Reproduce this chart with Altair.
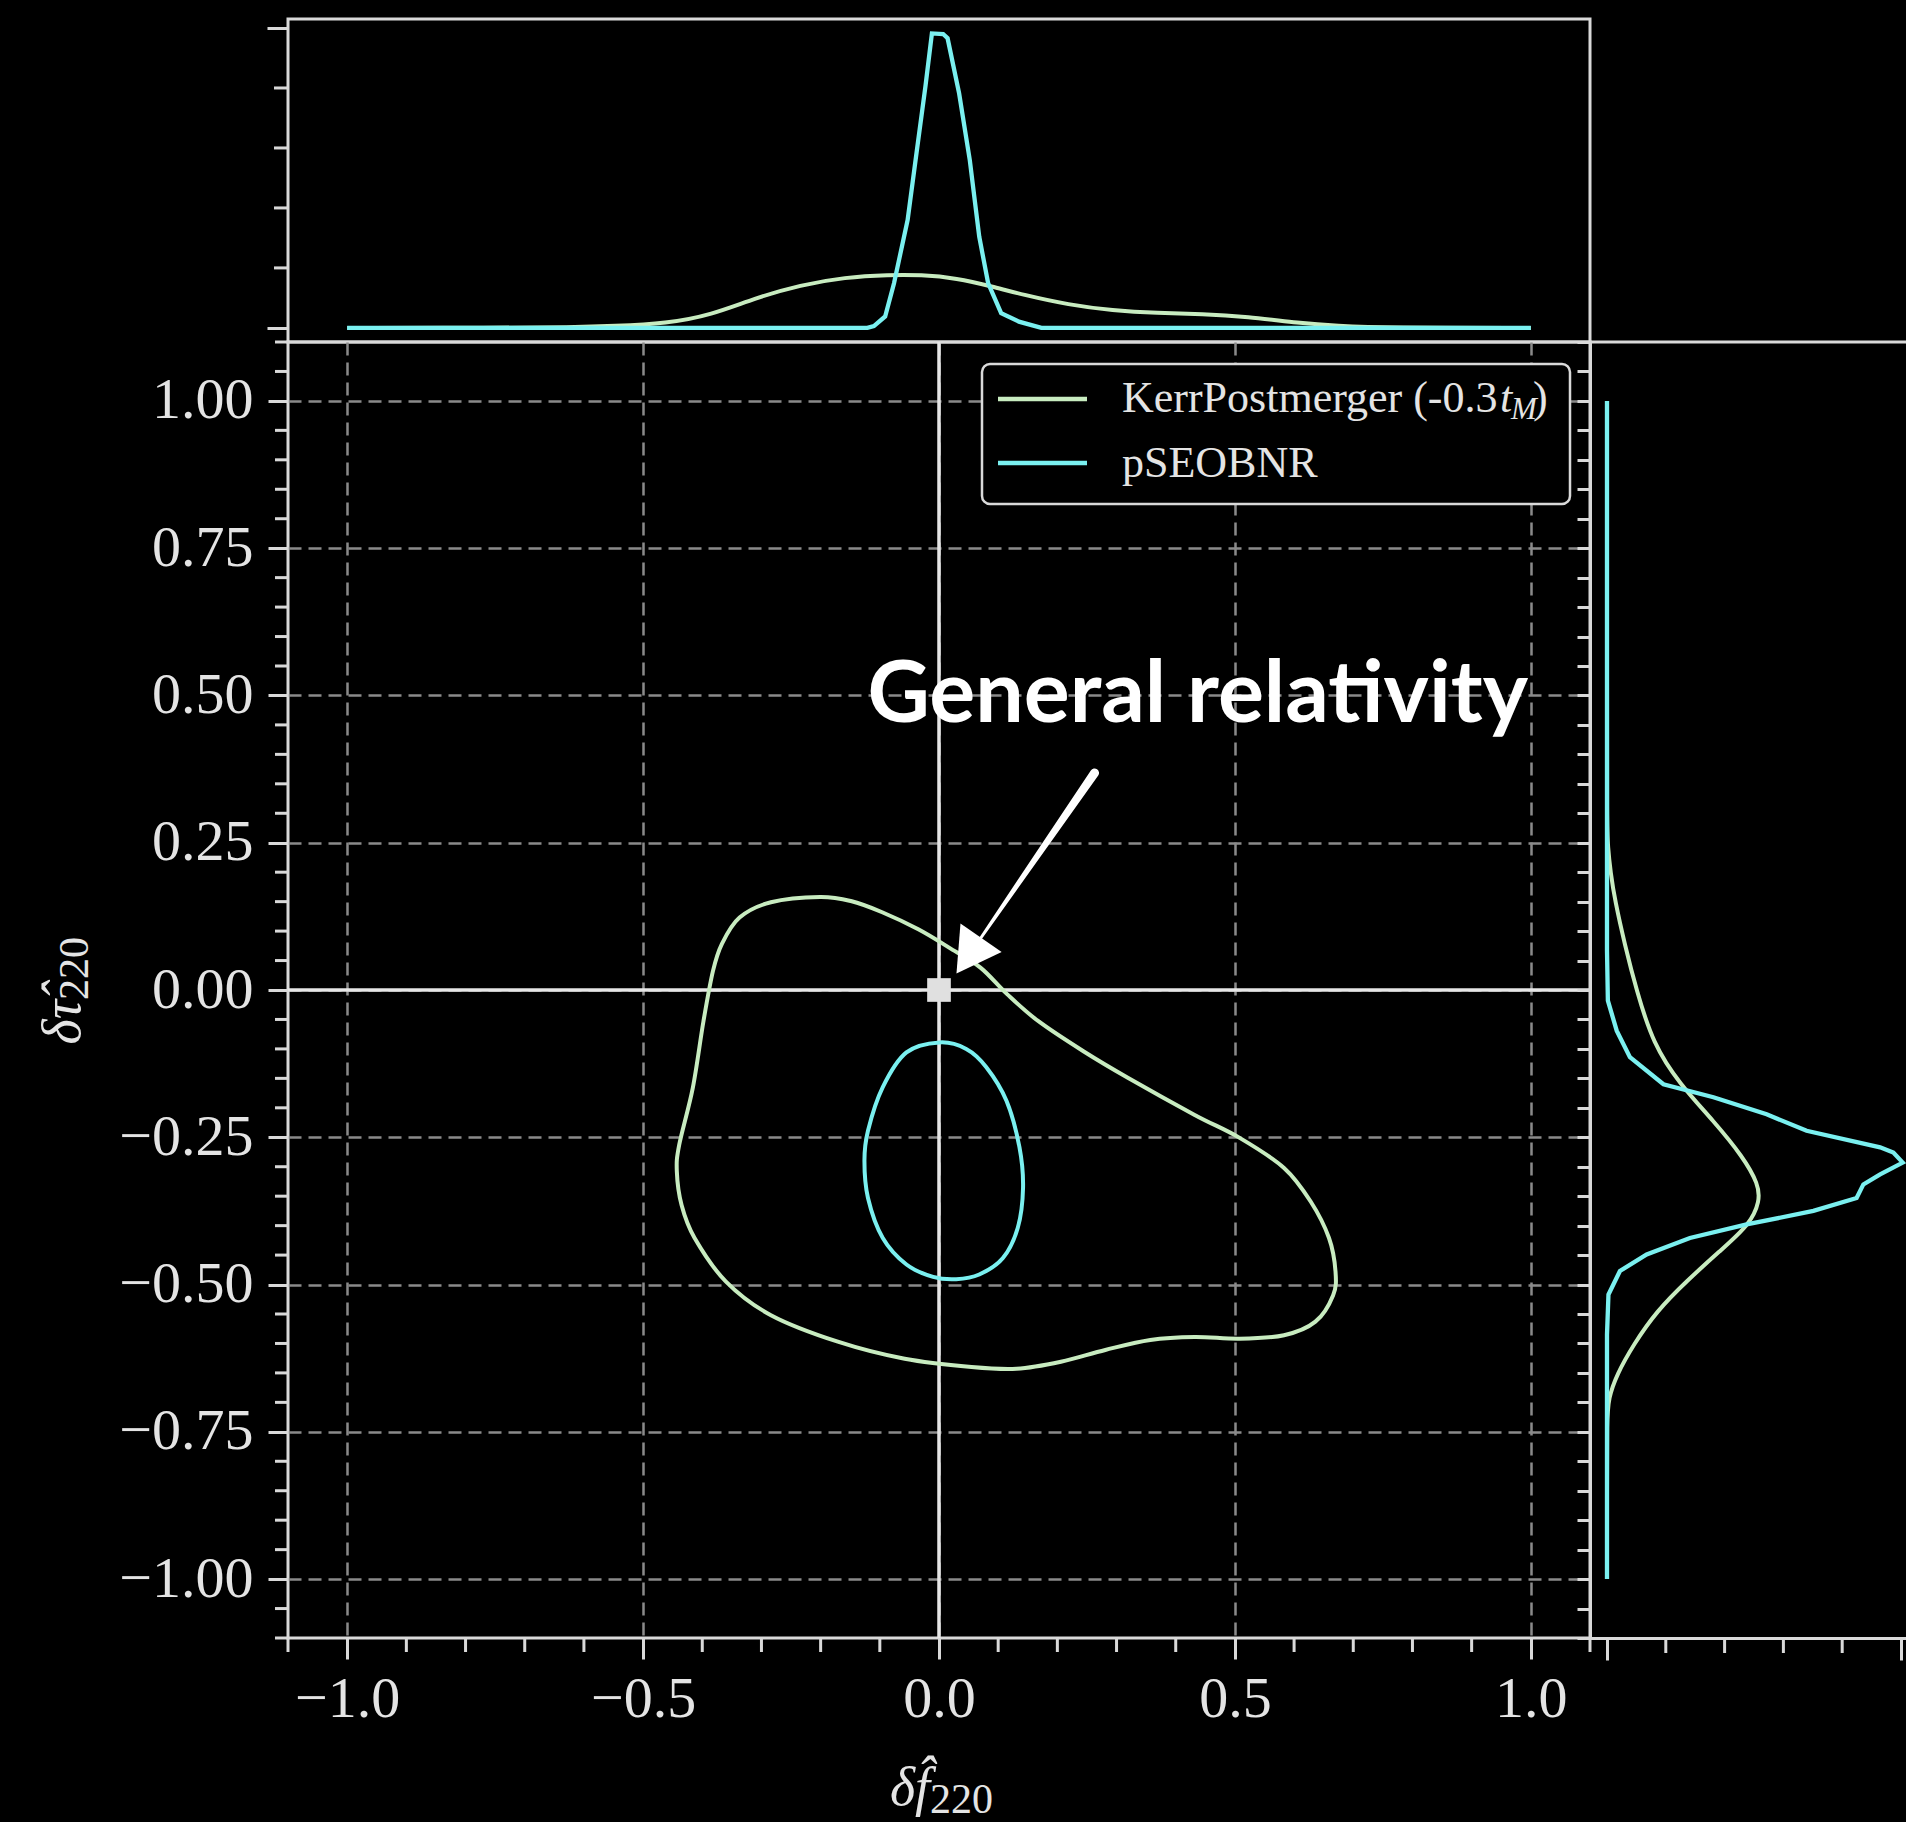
import altair as alt
import pandas as pd

# ---------------------------------------------------------------- data
# 90% credible contours in the (delta f_220, delta tau_220) plane
kerr_cx = [-0.201, -0.149, -0.096, -0.035, 0.017, 0.070, 0.115, 0.168, 0.244, 0.319,
           0.432, 0.508, 0.583, 0.628, 0.659, 0.670, 0.666, 0.636, 0.583, 0.508,
           0.432, 0.357, 0.281, 0.206, 0.131, 0.055, -0.058, -0.171, -0.284, -0.360,
           -0.413, -0.435, -0.443, -0.439, -0.416, -0.398, -0.382, -0.367, -0.337, -0.284]
kerr_cy = [0.158, 0.151, 0.132, 0.103, 0.072, 0.038, -0.007, -0.053, -0.104, -0.149,
           -0.212, -0.251, -0.302, -0.359, -0.421, -0.478, -0.518, -0.563, -0.586, -0.592,
           -0.589, -0.594, -0.611, -0.631, -0.643, -0.640, -0.626, -0.597, -0.552, -0.495,
           -0.421, -0.365, -0.308, -0.263, -0.166, -0.053, 0.032, 0.078, 0.123, 0.149]

pseob_cx = [0.001, 0.046, 0.080, 0.114, 0.136, 0.142, 0.133, 0.108, 0.068, 0.029,
            -0.010, -0.055, -0.095, -0.120, -0.126, -0.120, -0.095, -0.055]
pseob_cy = [-0.089, -0.100, -0.131, -0.188, -0.267, -0.336, -0.404, -0.455, -0.483, -0.491,
            -0.487, -0.466, -0.421, -0.353, -0.290, -0.239, -0.165, -0.106]

# marginal density of delta f_220 (top panel)
top_kerr_x = [-1.0, -0.75, -0.62, -0.55, -0.46, -0.385, -0.31, -0.234, -0.159, -0.084,
              -0.031, 0.03, 0.09, 0.143, 0.219, 0.293, 0.369, 0.445, 0.52, 0.61,
              0.67, 0.76, 1.0]
top_kerr_d = [0.0, 0.0, 0.02, 0.06, 0.15, 0.43, 1.0, 1.43, 1.69, 1.77,
              1.77, 1.66, 1.38, 1.1, 0.77, 0.58, 0.49, 0.47, 0.38, 0.16,
              0.07, 0.0, 0.0]
top_pseob_x = [-1.0, -0.5, -0.121, -0.11, -0.091, -0.076, -0.053, -0.038, -0.023, -0.012,
               0.007, 0.0145, 0.034, 0.052, 0.068, 0.083, 0.105, 0.135, 0.173, 0.5, 1.0]
top_pseob_d = [0.0, 0.0, 0.0, 0.06, 0.38, 1.49, 3.6, 5.83, 8.04, 9.82,
               9.8, 9.66, 7.82, 5.6, 3.04, 1.49, 0.49, 0.21, 0.0, 0.0, 0.0]

# marginal density of delta tau_220 (right panel)
right_kerr_y = [1.0, 0.5, 0.28, 0.243, 0.2, 0.152, 0.076, 0.0, -0.092, -0.160,
                -0.222, -0.284, -0.330, -0.358, -0.398, -0.443, -0.494, -0.545, -0.602, -0.653,
                -0.693, -0.73, -0.85, -1.0]
right_kerr_d = [0.0, 0.0, 0.0, 0.03, 0.12, 0.27, 0.61, 1.0, 1.57, 2.48,
                3.62, 4.64, 5.15, 5.2, 4.86, 3.84, 2.71, 1.69, 0.9, 0.33,
                0.05, 0.0, 0.0, 0.0]
right_pseob_y = [1.0, 0.5, 0.067, -0.018, -0.069, -0.114, -0.160, -0.182, -0.211, -0.239,
                 -0.267, -0.276, -0.293, -0.313, -0.330, -0.353, -0.375, -0.398, -0.421, -0.449,
                 -0.477, -0.517, -0.585, -0.8, -1.0]
right_pseob_d = [0.0, 0.0, 0.0, 0.03, 0.33, 0.78, 1.92, 3.62, 5.43, 6.79,
                 9.29, 9.74, 10.06, 9.29, 8.72, 8.49, 7.02, 4.75, 2.82, 1.35,
                 0.44, 0.05, 0.0, 0.0, 0.0]

# GR prediction and annotation arrow (tail -> base of head)
gr_point = {"x": [0.0], "y": [0.0]}
arrow_x = [0.2628, 0.0709]
arrow_y = [0.3684, 0.0887]
arrow_w = [9.0, 3.0]
arrow_head = {"x": [0.0503], "y": [0.0584]}
label_pos = {"x": [-0.121], "y": [0.455]}

# ticks
x_major = [-1.0, -0.5, 0.0, 0.5, 1.0]
y_major = [-1.0, -0.75, -0.5, -0.25, 0.0, 0.25, 0.5, 0.75, 1.0]
x_minor = [round(-1.1 + 0.1 * i, 2) for i in range(23)]
x_minor = [v for v in x_minor if round(v * 2, 6) != round(v * 2)]
y_all = [round(-1.1 + 0.05 * i, 2) for i in range(45)]
y_minor = [v for v in y_all if abs(v * 4 - round(v * 4)) > 1e-6]
dens_major = [0, 10]
dens_minor = [2, 4, 6, 8]

# ---------------------------------------------------------------- style
SPINE = "#d9d9d9"
TXT = "#e4e4e4"
GRID = "#8a8a8a"
KERR = "#c8ecc0"
PSEOB = "#7af0f0"
SERIF = "Liberation Serif"
LW = 4.0

CANVAS_W, CANVAS_H = 1906, 1822
W_MAIN, H_MAIN = 1302, 1296
H_TOP, W_RIGHT = 323, 316
PAD_LEFT, PAD_TOP = 288, 19

xs = alt.Scale(domain=[-1.1, 1.1], nice=False, zero=False)
ys = alt.Scale(domain=[-1.1, 1.1], nice=False, zero=False)
top_ds = alt.Scale(domain=[-0.47, 10.3], nice=False, zero=False)
right_ds = alt.Scale(domain=[-0.578, 10.17], nice=False, zero=False)


def frame(**cols):
    df = pd.DataFrame(cols)
    df["i"] = range(len(df))
    return df


one = pd.DataFrame({"k": [0]})

# ---------------------------------------------------------------- axes
x_axis = alt.Axis(values=x_major, format=".1f", title="", tickSize=21, tickWidth=3,
                  tickColor=SPINE, domain=False, labelFont=SERIF, labelFontSize=58,
                  labelColor=TXT, labelPadding=11, labelFlush=False, labelOverlap=False,
                  grid=True, gridColor=GRID, gridDash=[13, 7], gridWidth=2.5)
y_axis = alt.Axis(values=y_major, format=".2f", title="", tickSize=20, tickWidth=3,
                  tickColor=SPINE, domain=False, labelFont=SERIF, labelFontSize=58,
                  labelColor=TXT, labelPadding=15, labelFlush=False, labelOverlap=False,
                  grid=True, gridColor=GRID, gridDash=[13, 7], gridWidth=2.5)
top_y_axis = alt.Axis(values=dens_major, title="", tickSize=21, tickWidth=3, tickColor=SPINE,
                      labels=False, domain=False, grid=False)
right_x_axis = alt.Axis(values=dens_major, title="", tickSize=22, tickWidth=3, tickColor=SPINE,
                        labels=False, domain=True, domainColor=SPINE, domainWidth=3, grid=False)
right_y_axis = alt.Axis(values=y_all, title="", tickSize=13, tickWidth=3, tickColor=SPINE,
                        labels=False, domain=True, domainColor=SPINE, domainWidth=3, grid=False)


def mx(field):
    return alt.X(field, scale=xs, axis=x_axis)


def my(field):
    return alt.Y(field, scale=ys, axis=y_axis)


# ---------------------------------------------------------------- main panel
kerr_df = frame(x=kerr_cx, y=kerr_cy)
pseob_df = frame(x=pseob_cx, y=pseob_cy)

kerr_contour = alt.Chart(kerr_df).mark_line(
    color=KERR, strokeWidth=LW, interpolate="cardinal-closed"
).encode(x=mx("x:Q"), y=my("y:Q"), order="i:Q")

pseob_contour = alt.Chart(pseob_df).mark_line(
    color=PSEOB, strokeWidth=LW, interpolate="cardinal-closed"
).encode(x=mx("x:Q"), y=my("y:Q"), order="i:Q")

zero_v = alt.Chart(pd.DataFrame({"v": [0.0]})).mark_rule(color="#e6e6e6", strokeWidth=3.5).encode(
    x=mx("v:Q"))
zero_h = alt.Chart(pd.DataFrame({"v": [0.0]})).mark_rule(color="#e6e6e6", strokeWidth=3.5).encode(
    y=my("v:Q"))

minor_left = alt.Chart(pd.DataFrame({"v": y_minor})).mark_rule(color=SPINE, strokeWidth=3).encode(
    y=my("v:Q"), x=alt.value(-13), x2=alt.value(0))
minor_bottom = alt.Chart(pd.DataFrame({"v": x_minor})).mark_rule(color=SPINE, strokeWidth=3).encode(
    x=mx("v:Q"), y=alt.value(H_MAIN), y2=alt.value(H_MAIN + 14))

gr = alt.Chart(pd.DataFrame(gr_point)).mark_point(
    shape="square", filled=True, size=560, color="#e0e0e0", opacity=1
).encode(x=mx("x:Q"), y=my("y:Q"))

arrow_df = frame(x=arrow_x, y=arrow_y, w=arrow_w)
arrow_shaft = alt.Chart(arrow_df).mark_trail(color="white").encode(
    x=mx("x:Q"), y=my("y:Q"),
    size=alt.Size("w:Q", scale=None, legend=None), order="i:Q")
arrow_tip = alt.Chart(pd.DataFrame(arrow_head)).mark_point(
    shape="triangle-up", filled=True, size=2500, angle=214.6, color="white", opacity=1
).encode(x=mx("x:Q"), y=my("y:Q"))

gr_label = alt.Chart(pd.DataFrame(label_pos)).mark_text(
    text="General relativity", font="Lato", fontWeight="bold", fontSize=86,
    align="left", baseline="alphabetic", color="white"
).encode(x=mx("x:Q"), y=my("y:Q"))

# legend
leg_box = alt.Chart(one).mark_rect(
    fill="black", stroke=SPINE, strokeWidth=2.5, cornerRadius=8
).encode(x=alt.value(694), x2=alt.value(1282), y=alt.value(22), y2=alt.value(162))
leg_line_kerr = alt.Chart(one).mark_rule(color=KERR, strokeWidth=4.5).encode(
    x=alt.value(710), x2=alt.value(799), y=alt.value(57))
leg_line_pseob = alt.Chart(one).mark_rule(color=PSEOB, strokeWidth=4.5).encode(
    x=alt.value(710), x2=alt.value(799), y=alt.value(121))


def label(text, x, y, size=44, style="normal", align="left", angle=0):
    return alt.Chart(one).mark_text(
        text=text, font=SERIF, fontSize=size, fontStyle=style, align=align,
        baseline="alphabetic", color=TXT, angle=angle
    ).encode(x=alt.value(x), y=alt.value(y))


leg_texts = [
    label("KerrPostmerger (-0.3", 834, 70),
    label("t", 1212, 70, style="italic"),
    label("M", 1223, 77, size=31, style="italic"),
    label(")", 1245, 70),
    label("pSEOBNR", 834, 135),
]

# axis titles
titles = [
    label("δf\u0302", 642, 1463, size=54, style="italic", align="right"),
    label("220", 642, 1471, size=42),
    label("δτ\u0302", -208, 658, size=54, style="italic", align="right", angle=270),
    label("220", -200, 658, size=42, align="left", angle=270),
]

main = alt.layer(
    zero_v, zero_h, minor_left, minor_bottom, kerr_contour, pseob_contour, gr,
    arrow_shaft, arrow_tip, gr_label, leg_box, leg_line_kerr, leg_line_pseob,
    *leg_texts, *titles
).properties(width=W_MAIN, height=H_MAIN)

# ---------------------------------------------------------------- top marginal
top_kerr = alt.Chart(frame(x=top_kerr_x, d=top_kerr_d)).mark_line(
    color=KERR, strokeWidth=LW, interpolate="basis"
).encode(x=alt.X("x:Q", scale=xs, axis=None),
         y=alt.Y("d:Q", scale=top_ds, axis=top_y_axis), order="i:Q")
top_pseob = alt.Chart(frame(x=top_pseob_x, d=top_pseob_d)).mark_line(
    color=PSEOB, strokeWidth=LW + 0.3
).encode(x=alt.X("x:Q", scale=xs, axis=None),
         y=alt.Y("d:Q", scale=top_ds, axis=top_y_axis), order="i:Q")
top_minor = alt.Chart(pd.DataFrame({"v": dens_minor})).mark_rule(color=SPINE, strokeWidth=3).encode(
    y=alt.Y("v:Q", scale=top_ds, axis=top_y_axis), x=alt.value(-14), x2=alt.value(0))
top = alt.layer(top_minor, top_kerr, top_pseob).properties(width=W_MAIN, height=H_TOP)

# ---------------------------------------------------------------- right marginal
def rx(field):
    return alt.X(field, scale=right_ds, axis=right_x_axis)


def ry(field):
    return alt.Y(field, scale=ys, axis=right_y_axis)


right_kerr = alt.Chart(frame(y=right_kerr_y, d=right_kerr_d)).mark_line(
    color=KERR, strokeWidth=LW, interpolate="basis"
).encode(x=rx("d:Q"), y=ry("y:Q"), order="i:Q")
right_pseob = alt.Chart(frame(y=right_pseob_y, d=right_pseob_d)).mark_line(
    color=PSEOB, strokeWidth=LW + 0.3
).encode(x=rx("d:Q"), y=ry("y:Q"), order="i:Q")
right_minor = alt.Chart(pd.DataFrame({"v": dens_minor})).mark_rule(color=SPINE, strokeWidth=3).encode(
    x=rx("v:Q"), y=alt.value(H_MAIN), y2=alt.value(H_MAIN + 15))
right_top = alt.Chart(pd.DataFrame({"v": [1.1]})).mark_rule(color=SPINE, strokeWidth=3).encode(
    y=ry("v:Q"))
right = alt.layer(right_minor, right_top, right_kerr, right_pseob).properties(
    width=W_RIGHT, height=H_MAIN, view=alt.ViewBackground(stroke="transparent"))

# ---------------------------------------------------------------- assemble
# fixed canvas: with autosize "none" the view itself has no size, so the
# padding alone sets the page size and places the panels' origin
chart = alt.vconcat(
    top,
    alt.hconcat(main, right, spacing=0, bounds="flush"),
    spacing=0, bounds="flush",
).properties(
    autosize=alt.AutoSizeParams(type="none"),
    padding={"left": PAD_LEFT, "top": PAD_TOP,
             "right": CANVAS_W - PAD_LEFT, "bottom": CANVAS_H - PAD_TOP},
).configure(background="black").configure_view(stroke=SPINE, strokeWidth=3)

chart.save("out.html", embed_options={"renderer": "svg", "actions": False})
